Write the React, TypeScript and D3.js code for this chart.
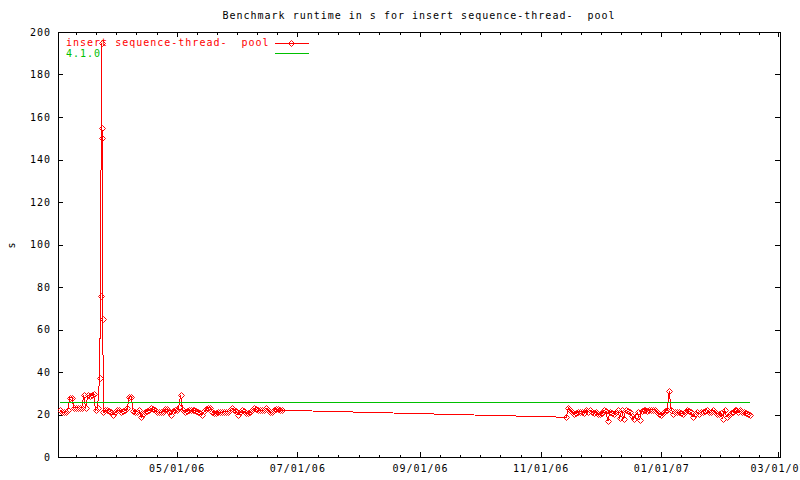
import React from 'react';
import * as d3 from 'd3';

const W = 800;
const H = 480;
const PLOT = { left: 58, right: 780, top: 32, bottom: 457 };

const chartTitle = 'Benchmark runtime in s for insert sequence-thread-  pool';
const seriesName = 'insert sequence-thread-  pool';
const baselineName = '4.1.0';
const yAxisLabel = 's';

const xDomain = ['2006-03-02', '2007-03-02'];
const yDomain = [0, 200];
const yTicks = [0, 20, 40, 60, 80, 100, 120, 140, 160, 180, 200];
const xMajorTicks = ['2006-03-01', '2006-05-01', '2006-07-01', '2006-09-01', '2006-11-01', '2007-01-01', '2007-03-01'];
const baselineValue = 25.7;

// [day of month, runtime in s]
const mar2006: [number, number][] = [
  [3, 22], [4, 21], [5, 21], [6, 21.3], [7, 22], [8, 28], [9, 28], [10, 23.2], [11, 23.2], [12, 23.2],
  [13, 23], [14, 23.2], [15, 29], [16, 23], [17, 29], [18, 28.5], [19, 29], [20, 29.5], [21, 22], [22, 23],
  [23, 37], [23.5, 76], [24, 195], [24.2, 155], [24.4, 150], [24.6, 65], [25, 21], [26, 22], [27, 22],
  [28, 21.5], [29, 21], [30, 20], [31, 21],
];
const apr2006: [number, number][] = [
  [1, 22], [2, 22], [3, 21.3], [4, 21.5], [5, 22], [6, 23], [7, 28.4], [8, 28.4], [9, 21.5], [10, 21.3],
  [11, 21.3], [12, 22], [13, 18.7], [14, 20.3], [15, 21.3], [16, 21.5], [17, 22], [18, 23], [19, 22.5], [20, 22],
  [21, 21.3], [22, 21], [23, 21], [24, 21.3], [25, 22.5], [26, 22.5], [27, 21.3], [28, 19.8], [29, 21.5], [30, 22],
];
const may2006: [number, number][] = [
  [1, 22], [2, 23.5], [3, 29.2], [4, 22], [5, 21], [6, 21.5], [7, 22], [8, 22], [9, 22], [10, 22],
  [11, 21.5], [12, 21.3], [13, 20.5], [14, 20], [15, 21.5], [16, 22.5], [17, 23.2], [18, 23], [19, 21.3], [20, 20.5],
  [21, 20.5], [22, 21.3], [23, 21], [24, 21], [25, 21.3], [26, 21.3], [27, 21.3], [28, 22], [29, 23], [30, 22], [31, 21.5],
];
const jun2006: [number, number][] = [
  [1, 20], [2, 21], [3, 22], [4, 21.5], [5, 20.5], [6, 20.5], [7, 21.3], [8, 22], [9, 23], [10, 22.5],
  [11, 22], [12, 22], [13, 22], [14, 22], [15, 23], [16, 22], [17, 21.3], [18, 21], [19, 22], [20, 22.5],
  [21, 22.5], [22, 22], [23, 22],
];
const nov2006: [number, number][] = [
  [14, 18.7], [15, 23.2], [16, 22.3], [17, 21.3], [18, 20.3], [19, 20.8], [20, 21.3], [21, 21.3], [22, 21.3],
  [23, 20.8], [24, 22.2], [25, 21.3], [26, 22], [27, 21], [28, 20.5], [29, 21.3], [30, 20.2],
];
const dec2006: [number, number][] = [
  [1, 20.2], [2, 20.8], [3, 22], [4, 21.5], [5, 16.9], [6, 21.3], [7, 20.8], [8, 20.2], [9, 21.3], [10, 22],
  [11, 18.5], [12, 22], [13, 18], [14, 22], [15, 21.5], [16, 21], [17, 19.5], [18, 18], [19, 19.5], [20, 21],
  [21, 17.5], [22, 21.5], [23, 22.3], [24, 22.3], [25, 21.5], [26, 22.3], [27, 22.3], [28, 22.3], [29, 22], [30, 21.3], [31, 20.3],
];
const jan2007: [number, number][] = [
  [1, 19.8], [2, 20.5], [3, 21.5], [4, 22.3], [5, 31], [6, 22.3], [7, 20.3], [8, 21.3], [9, 21], [10, 21],
  [11, 20.5], [12, 20.3], [13, 21.3], [14, 22.3], [15, 21.5], [16, 21], [17, 19], [18, 20.1], [19, 21.3], [20, 20.2],
  [21, 21], [22, 21.3], [23, 21.8], [24, 22.3], [25, 21], [26, 21], [27, 22.3], [28, 21.3], [29, 20.3], [30, 20.2], [31, 20.8],
];
const feb2007: [number, number][] = [
  [1, 17.8], [2, 22.3], [3, 19], [4, 19.8], [5, 20.5], [6, 21.3], [7, 22.3], [8, 22], [9, 21], [10, 22.3],
  [11, 21.3], [12, 21], [13, 20.5], [14, 20.2], [15, 20],
];

const months: [number, number, [number, number][]][] = [
  [2006, 2, mar2006], [2006, 3, apr2006], [2006, 4, may2006], [2006, 5, jun2006],
  [2006, 10, nov2006], [2006, 11, dec2006], [2007, 0, jan2007], [2007, 1, feb2007],
];

type Pt = { t: Date; v: number };
const runs: Pt[] = months.flatMap(([yr, mo, rows]) =>
  rows.map(([day, v]) => ({ t: new Date(Date.UTC(yr, mo, 1) + (day - 1) * 86400000), v }))
);

const RED = '#ff0000';
const GREEN = '#00c000';
const FONT = '"DejaVu Sans Mono", monospace';

export default function App() {
  const x = d3.scaleUtc().domain(xDomain.map((s) => new Date(s + 'T00:00:00Z'))).range([PLOT.left, PLOT.right]);
  const y = d3.scaleLinear().domain(yDomain).range([PLOT.bottom, PLOT.top]);

  const majors = xMajorTicks.map((s) => new Date(s + 'T00:00:00Z'));
  const [d0, d1] = x.domain();
  const minors: Date[] = [];
  for (let i = 0; i < majors.length - 1; i++) {
    const a = +majors[i];
    const b = +majors[i + 1];
    for (let k = 1; k < 6; k++) minors.push(new Date(a + ((b - a) * k) / 6));
  }
  const inDom = (d: Date) => d >= d0 && d <= d1;
  const majorIn = majors.filter(inDom);
  const minorIn = minors.filter(inDom);
  const fmt = d3.utcFormat('%m/%d/%y');

  const line = d3.line<Pt>().x((d) => x(d.t)).y((d) => y(d.v));
  const first = runs[0].t;
  const last = runs[runs.length - 1].t;
  const baseline: Pt[] = [{ t: first, v: baselineValue }, { t: last, v: baselineValue }];

  const diamond = (cx: number, cy: number) => `M${cx},${cy - 3}L${cx + 3},${cy}L${cx},${cy + 3}L${cx - 3},${cy}Z`;
  const txt = { fontFamily: FONT, fontSize: 10, letterSpacing: '1px', whiteSpace: 'pre' as const };

  return (
    <svg width={W} height={H} style={{ position: 'absolute', left: 0, top: 0, display: 'block', background: '#fff' }}>
      <rect x={0} y={0} width={W} height={H} fill="#fff" />
      <defs>
        <clipPath id="plotclip">
          <rect x={PLOT.left} y={PLOT.top} width={PLOT.right - PLOT.left} height={PLOT.bottom - PLOT.top} />
        </clipPath>
      </defs>
      <text x={(PLOT.left + PLOT.right) / 2} y={19} textAnchor="middle" style={txt} fill="#000">{chartTitle}</text>

      {/* axes frame */}
      <rect x={PLOT.left + 0.5} y={PLOT.top + 0.5} width={PLOT.right - PLOT.left} height={PLOT.bottom - PLOT.top} fill="none" stroke="#000" strokeWidth={1} shapeRendering="crispEdges" />

      {/* y ticks */}
      {yTicks.map((v) => {
        const yy = Math.round(y(v)) + 0.5;
        return (
          <g key={'y' + v}>
            <line x1={PLOT.left} x2={PLOT.left + 5} y1={yy} y2={yy} stroke="#000" shapeRendering="crispEdges" />
            <line x1={PLOT.right - 5} x2={PLOT.right} y1={yy} y2={yy} stroke="#000" shapeRendering="crispEdges" />
            <text x={51} y={y(v) + 3.7} textAnchor="end" style={txt} fill="#000">{v}</text>
          </g>
        );
      })}

      {/* x ticks */}
      {minorIn.map((d, i) => {
        const xx = Math.round(x(d)) + 0.5;
        return (
          <g key={'m' + i}>
            <line x1={xx} x2={xx} y1={PLOT.bottom} y2={PLOT.bottom - 2.5} stroke="#000" shapeRendering="crispEdges" />
            <line x1={xx} x2={xx} y1={PLOT.top} y2={PLOT.top + 2.5} stroke="#000" shapeRendering="crispEdges" />
          </g>
        );
      })}
      {majorIn.map((d, i) => {
        const xx = Math.round(x(d)) + 0.5;
        return (
          <g key={'M' + i}>
            <line x1={xx} x2={xx} y1={PLOT.bottom} y2={PLOT.bottom - 5} stroke="#000" shapeRendering="crispEdges" />
            <line x1={xx} x2={xx} y1={PLOT.top} y2={PLOT.top + 5} stroke="#000" shapeRendering="crispEdges" />
            <text x={x(d) + 0.5} y={472} textAnchor="middle" style={txt} fill="#000">{fmt(d)}</text>
          </g>
        );
      })}

      <text transform={`translate(15,245) rotate(-90)`} textAnchor="middle" style={txt} fill="#000">{yAxisLabel}</text>

      <g clipPath="url(#plotclip)">
        <path d={line(runs) || ''} fill="none" stroke={RED} strokeWidth={1} shapeRendering="crispEdges" />
        {runs.map((d, i) => (
          <path key={i} d={diamond(Math.round(x(d.t)) + 0.5, Math.round(y(d.v)) + 0.5)} fill="none" stroke={RED} strokeWidth={1} />
        ))}
        <path d={line(baseline) || ''} fill="none" stroke={GREEN} strokeWidth={1} shapeRendering="crispEdges" />
      </g>

      {/* legend */}
      <text x={66} y={46} style={txt} fill={RED}>{seriesName}</text>
      <line x1={275} x2={309} y1={43.5} y2={43.5} stroke={RED} shapeRendering="crispEdges" />
      <path d={diamond(291.5, 43.5)} fill="none" stroke={RED} />
      <text x={66} y={57} style={txt} fill={GREEN}>{baselineName}</text>
      <line x1={275} x2={309} y1={53.5} y2={53.5} stroke={GREEN} shapeRendering="crispEdges" />
    </svg>
  );
}
